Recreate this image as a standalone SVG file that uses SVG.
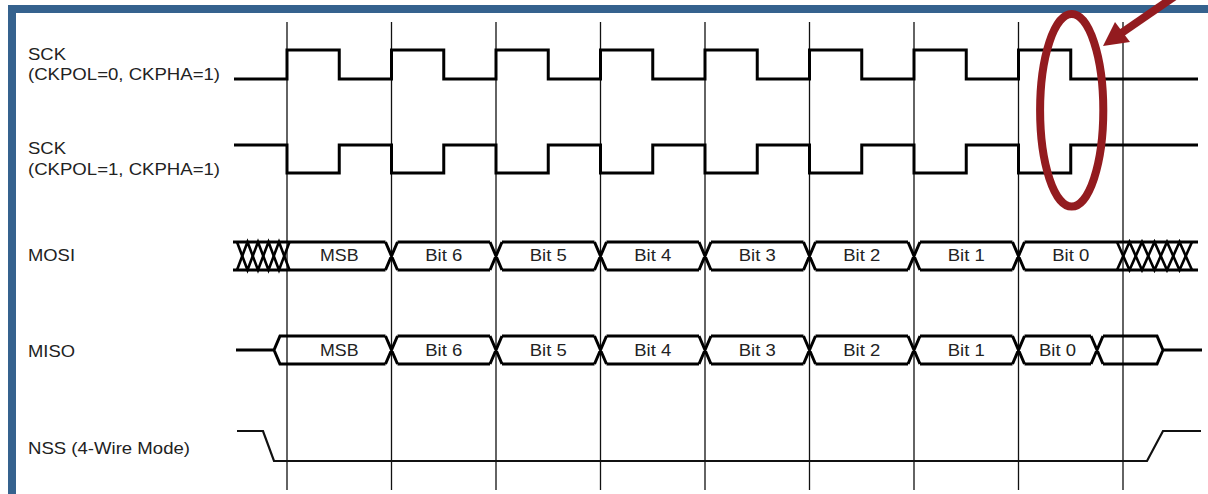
<svg xmlns="http://www.w3.org/2000/svg" width="1208" height="494" viewBox="0 0 1208 494">
<style>
.lbl{font-family:"Liberation Sans",Arial,sans-serif;font-size:16.5px;fill:#222}
.bl{font-family:"Liberation Sans",Arial,sans-serif;font-size:16.5px;fill:#222;text-anchor:middle}
.grid{stroke:#111;stroke-width:1.3;fill:none}
.sig{stroke:#000;stroke-width:3;fill:none;stroke-linejoin:miter}
.bus{stroke:#000;stroke-width:3;fill:none}
.hatch{stroke:#000;stroke-width:2.6;fill:none}
.nss{stroke:#111;stroke-width:2.2;fill:none}
.mark{stroke:#931b1f;fill:none}
</style>
<rect x="0" y="0" width="1208" height="494" fill="#fff"/>
<g id="frame" fill="#35628e">
<rect x="8" y="5" width="1200" height="8"/>
<rect x="8" y="5" width="8" height="489"/>
</g>
<g id="grid" class="grid">
<path d="M287,22V490M391.5,22V490M496,22V490M600.5,22V490M705,22V490M809.5,22V490M914,22V490M1018.5,22V490M1123,22V490"/>
</g>
<g id="sck1">
<text class="lbl" x="28" y="60" textLength="38" lengthAdjust="spacingAndGlyphs">SCK</text>
<text class="lbl" x="28" y="80" textLength="192" lengthAdjust="spacingAndGlyphs">(CKPOL=0, CKPHA=1)</text>
<path class="sig" d="M234,79H287V50H339.25V79H391.5V50H443.75V79H496V50H548.25V79H600.5V50H652.75V79H705V50H757.25V79H809.5V50H861.75V79H914V50H966.25V79H1018.5V50H1070.75V79H1198"/>
</g>
<g id="sck2">
<text class="lbl" x="28" y="154" textLength="38" lengthAdjust="spacingAndGlyphs">SCK</text>
<text class="lbl" x="28" y="175" textLength="192" lengthAdjust="spacingAndGlyphs">(CKPOL=1, CKPHA=1)</text>
<path class="sig" d="M234,145H287V173H339.25V145H391.5V173H443.75V145H496V173H548.25V145H600.5V173H652.75V145H705V173H757.25V145H809.5V173H861.75V145H914V173H966.25V145H1018.5V173H1070.75V145H1198"/>
</g>
<g id="mosi">
<text class="lbl" x="28" y="261" textLength="47" lengthAdjust="spacingAndGlyphs">MOSI</text>
<path class="bus" d="M233,242H385.5M397.5,242H490M502,242H594.5M606.5,242H699M711,242H803.5M815.5,242H908M920,242H1012.5M1024.5,242H1198M233,270H385.5M397.5,270H490M502,270H594.5M606.5,270H699M711,270H803.5M815.5,270H908M920,270H1012.5M1024.5,270H1198"/>
<path class="bus" d="M385.5,242L397.5,270M385.5,270L397.5,242M490,242L502,270M490,270L502,242M594.5,242L606.5,270M594.5,270L606.5,242M699,242L711,270M699,270L711,242M803.5,242L815.5,270M803.5,270L815.5,242M908,242L920,270M908,270L920,242M1012.5,242L1024.5,270M1012.5,270L1024.5,242"/>
<polyline class="hatch" points="237,242 247.5,270 258,242 268.5,270 279,242 289.5,270"/>
<polyline class="hatch" points="237,270 247.5,242 258,270 268.5,242 279,270 289.5,242"/>
<polyline class="hatch" points="1117,242 1129.5,270 1142,242 1154.5,270 1167,242 1179.5,270 1192,242"/>
<polyline class="hatch" points="1117,270 1129.5,242 1142,270 1154.5,242 1167,270 1179.5,242 1192,270"/>
<text class="bl" x="339.25" y="261" textLength="38.5" lengthAdjust="spacingAndGlyphs">MSB</text>
<text class="bl" x="443.75" y="261" textLength="37" lengthAdjust="spacingAndGlyphs">Bit 6</text>
<text class="bl" x="548.25" y="261" textLength="37" lengthAdjust="spacingAndGlyphs">Bit 5</text>
<text class="bl" x="652.75" y="261" textLength="37" lengthAdjust="spacingAndGlyphs">Bit 4</text>
<text class="bl" x="757.25" y="261" textLength="37" lengthAdjust="spacingAndGlyphs">Bit 3</text>
<text class="bl" x="861.75" y="261" textLength="37" lengthAdjust="spacingAndGlyphs">Bit 2</text>
<text class="bl" x="966.25" y="261" textLength="37" lengthAdjust="spacingAndGlyphs">Bit 1</text>
<text class="bl" x="1070.75" y="261" textLength="37" lengthAdjust="spacingAndGlyphs">Bit 0</text>
</g>
<g id="miso">
<text class="lbl" x="28" y="357" textLength="47" lengthAdjust="spacingAndGlyphs">MISO</text>
<path class="bus" d="M236,350H274L280,336H385.5M274,350L280,364H385.5M397.5,336H490M502,336H594.5M606.5,336H699M711,336H803.5M815.5,336H908M920,336H1012.5M1024.5,336H1091M1103,336H1157L1163,350H1202M397.5,364H490M502,364H594.5M606.5,364H699M711,364H803.5M815.5,364H908M920,364H1012.5M1024.5,364H1091M1103,364H1157L1163,350"/>
<path class="bus" d="M385.5,336L397.5,364M385.5,364L397.5,336M490,336L502,364M490,364L502,336M594.5,336L606.5,364M594.5,364L606.5,336M699,336L711,364M699,364L711,336M803.5,336L815.5,364M803.5,364L815.5,336M908,336L920,364M908,364L920,336M1012.5,336L1024.5,364M1012.5,364L1024.5,336M1091,336L1103,364M1091,364L1103,336"/>
<text class="bl" x="339.25" y="356" textLength="38.5" lengthAdjust="spacingAndGlyphs">MSB</text>
<text class="bl" x="443.75" y="356" textLength="37" lengthAdjust="spacingAndGlyphs">Bit 6</text>
<text class="bl" x="548.25" y="356" textLength="37" lengthAdjust="spacingAndGlyphs">Bit 5</text>
<text class="bl" x="652.75" y="356" textLength="37" lengthAdjust="spacingAndGlyphs">Bit 4</text>
<text class="bl" x="757.25" y="356" textLength="37" lengthAdjust="spacingAndGlyphs">Bit 3</text>
<text class="bl" x="861.75" y="356" textLength="37" lengthAdjust="spacingAndGlyphs">Bit 2</text>
<text class="bl" x="966.25" y="356" textLength="37" lengthAdjust="spacingAndGlyphs">Bit 1</text>
<text class="bl" x="1057.5" y="356" textLength="37" lengthAdjust="spacingAndGlyphs">Bit 0</text>
</g>
<g id="nss">
<text class="lbl" x="28" y="454" textLength="162" lengthAdjust="spacingAndGlyphs">NSS (4-Wire Mode)</text>
<path class="nss" d="M237,431H263L274,461H1147L1163,431H1201"/>
</g>
<g id="highlight">
<ellipse class="mark" cx="1071.7" cy="110.3" rx="31.6" ry="96.3" stroke-width="8"/>
<path class="mark" d="M1181,-8L1120,34" stroke-width="8"/>
<polygon points="1103,46 1115,22 1130,42" fill="#931b1f"/>
</g>
</svg>
